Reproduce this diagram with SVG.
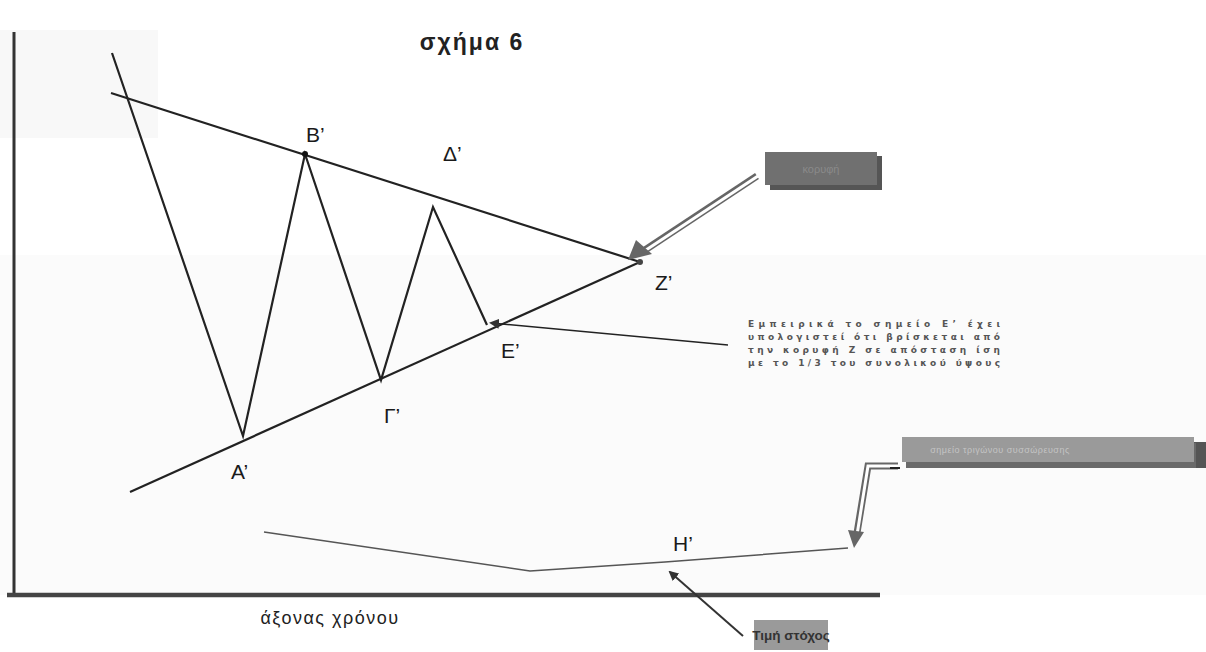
<svg xmlns="http://www.w3.org/2000/svg" width="1206" height="652" viewBox="0 0 1206 652">
<style>
.lbl{font-family:"Liberation Sans",Arial,sans-serif;font-size:21px;fill:#1a1a1a}
.ln{stroke:#222;stroke-width:2.2;fill:none}
.note{font-family:"DejaVu Sans",sans-serif;font-size:9px;font-weight:bold;fill:#555;letter-spacing:1px}
.dbl{stroke:#666;stroke-width:7;fill:none}
.dbli{stroke:#fff;stroke-width:3;fill:none}
</style>
<defs>
<marker id="ah" markerWidth="10" markerHeight="10" refX="8" refY="5" orient="auto" markerUnits="userSpaceOnUse">
<path d="M0,0 L10,5 L0,10 Z" fill="#333"/>
</marker>
</defs>
<rect width="1206" height="652" fill="#fff"/>
<rect x="0" y="30" width="158" height="108" fill="#f8f8f8"/>
<rect x="0" y="255" width="1206" height="340" fill="#fbfbfb"/>
<text x="472" y="50" text-anchor="middle" font-family="Liberation Sans,Arial,sans-serif" font-size="23" font-weight="bold" fill="#222" letter-spacing="2">σχήμα 6</text>
<g id="axes">
<line x1="14" y1="32" x2="14" y2="597" stroke="#333" stroke-width="3"/>
<line x1="7" y1="595" x2="880" y2="595" stroke="#444" stroke-width="4.5"/>
<text x="330" y="624" text-anchor="middle" font-family="Liberation Sans,Arial,sans-serif" font-size="18" fill="#222" letter-spacing="1.5">άξονας χρόνου</text>
</g>
<g id="connectors">
<line class="ln" x1="111" y1="93" x2="640" y2="262"/>
<line class="ln" x1="130" y1="492" x2="640" y2="262" stroke="#333"/>
<polyline class="ln" points="112,53 243,436 305,154 381,380 433,207 487,325"/>
<polyline points="264,532 530,571 665,562 848,548" fill="none" stroke="#555" stroke-width="1.5"/>
<line x1="728" y1="345" x2="491" y2="323" stroke="#222" stroke-width="1.5" marker-end="url(#ah)"/>
<line x1="743" y1="636" x2="670" y2="572" stroke="#333" stroke-width="2" marker-end="url(#ah)"/>
<g id="dblarrow1">
<line class="dbl" x1="757" y1="176" x2="645" y2="250"/>
<line class="dbli" x1="758" y1="176" x2="643" y2="252"/>
<path d="M628,260 L636,240 L652,254 Z" fill="#666"/>
</g>
<g id="dblarrow2">
<polyline class="dbl" points="898,466 868,466 857,533"/>
<polyline class="dbli" points="898,466 868,466 857,535"/>
<path d="M854,548 L848,530 L864,532 Z" fill="#666"/>
<line x1="890" y1="468" x2="900" y2="468" stroke="#222" stroke-width="2"/>
</g>
</g>
<g id="node-B">
<circle cx="305" cy="154" r="3" fill="#111"/>
<text class="lbl" x="306" y="142">B’</text>
</g>
<g id="node-D"><text class="lbl" x="443" y="161">Δ’</text></g>
<g id="node-Z">
<circle cx="640" cy="262" r="3" fill="#444"/>
<text class="lbl" x="655" y="290">Z’</text>
</g>
<g id="node-E"><text class="lbl" x="501" y="358">E’</text></g>
<g id="node-G"><text class="lbl" x="384" y="423">Γ’</text></g>
<g id="node-A"><text class="lbl" x="231" y="479">A’</text></g>
<g id="node-H"><text class="lbl" x="673" y="551">H’</text></g>
<g id="box-top">
<rect x="770" y="156" width="112" height="34" fill="#555"/>
<rect x="765" y="152" width="112" height="33" fill="#707070"/>
<text x="821" y="173" text-anchor="middle" font-family="Liberation Sans,Arial,sans-serif" font-size="11" fill="#8a8a8a">κορυφή</text>
</g>
<g id="note">
<text class="note" x="748" y="327" textLength="253" lengthAdjust="spacing">Εμπειρικά το σημείο Ε’ έχει</text>
<text class="note" x="748" y="340" textLength="253" lengthAdjust="spacing">υπολογιστεί ότι βρίσκεται από</text>
<text class="note" x="748" y="353" textLength="253" lengthAdjust="spacing">την κορυφή Ζ σε απόσταση ίση</text>
<text class="note" x="748" y="366" textLength="253" lengthAdjust="spacing">με το 1/3 του συνολικού ύψους</text>
</g>
<g id="box-long">
<rect x="1190" y="442" width="16" height="26" fill="#555"/>
<rect x="906" y="443" width="290" height="25" fill="#6a6a6a"/>
<rect x="902" y="437" width="292" height="25" fill="#9a9a9a"/>
<text x="1000" y="453" text-anchor="middle" font-family="Liberation Sans,Arial,sans-serif" font-size="9" fill="#c4c4c4" letter-spacing="0.5">σημείο τριγώνου συσσώρευσης</text>
</g>
<g id="box-target">
<rect x="754" y="620" width="74" height="30" fill="#9a9a9a"/>
<text x="791" y="640" text-anchor="middle" font-family="Liberation Sans,Arial,sans-serif" font-size="13.5" font-weight="bold" fill="#333">Τιμή στόχος</text>
</g>
</svg>
